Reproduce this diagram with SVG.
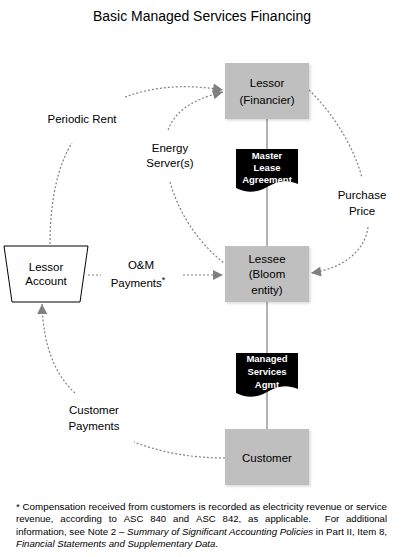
<svg xmlns="http://www.w3.org/2000/svg" width="405" height="557" viewBox="0 0 405 557">
<style>
text{font-family:"Liberation Sans",Arial,sans-serif;fill:#000}
.t{font-size:14px}
.n{font-size:11.5px;text-anchor:middle}
.d{font-size:9.5px;text-anchor:middle;fill:#fff;font-weight:bold}
.f{font-size:9.6px}
.box{fill:#bfbfbf}
.dash{fill:none;stroke:#808080;stroke-width:1.2;stroke-dasharray:2 2}
.solid{stroke:#808080;stroke-width:1.2}
</style>
<defs>
<marker id="ah" viewBox="0 0 10 10" refX="10" refY="5" markerWidth="11" markerHeight="10" markerUnits="userSpaceOnUse" orient="auto">
<path d="M0,0 L10,5 L0,10 Z" fill="#808080"/>
</marker>
<filter id="sh" x="-10%" y="-10%" width="130%" height="130%">
<feDropShadow dx="1.5" dy="1.5" stdDeviation="1" flood-color="#000" flood-opacity="0.15"/>
</filter>
</defs>
<rect width="405" height="557" fill="#fff"/>
<text class="t" x="202" y="21" text-anchor="middle" textLength="218" lengthAdjust="spacingAndGlyphs">Basic Managed Services Financing</text>

<g id="connectors">
<line class="solid" x1="267" y1="119" x2="267" y2="246"/>
<line class="solid" x1="267" y1="302" x2="267" y2="429"/>
<path class="dash" d="M50,244 C50,200 58,165 72,143"/>
<path class="dash" d="M125,97 C150,88 180,83 223,90" marker-end="url(#ah)"/>
<path class="dash" d="M168,130 C175,112 190,100 223,92" marker-end="url(#ah)"/>
<path class="dash" d="M170,182 C178,210 195,240 224,263"/>
<path class="dash" d="M309,90 C335,115 355,150 362,178"/>
<path class="dash" d="M368,227 C365,250 345,268 311,273" marker-end="url(#ah)"/>
<path class="dash" d="M88,275 H101"/>
<path class="dash" d="M183,275 H223" marker-end="url(#ah)"/>
<path class="dash" d="M225,458 C190,458 160,452 134,442"/>
<path class="dash" d="M75,393 C55,375 43,345 42,304" marker-end="url(#ah)"/>
</g>

<g id="lessor">
<rect class="box" x="225" y="63" width="84" height="56" filter="url(#sh)"/>
<text class="n" x="267" y="87">Lessor</text>
<text class="n" x="267" y="104">(Financier)</text>
</g>
<g id="master-lease">
<path d="M236,149 H298 V184 C286,179 277,181 267,187 C257,193 246,193 236,188 Z" fill="#000"/>
<text class="d" x="267" y="159">Master</text>
<text class="d" x="267" y="171">Lease</text>
<text class="d" x="267" y="183">Agreement</text>
</g>
<g id="lessee">
<rect class="box" x="225" y="246" width="84" height="56" filter="url(#sh)"/>
<text class="n" x="267" y="263">Lessee</text>
<text class="n" x="267" y="278">(Bloom</text>
<text class="n" x="267" y="294">entity)</text>
</g>
<g id="managed-services">
<path d="M236,353 H298 V389 C286,384 277,386 267,392 C257,398 246,398 236,393 Z" fill="#000"/>
<text class="d" x="267" y="362">Managed</text>
<text class="d" x="267" y="375">Services</text>
<text class="d" x="267" y="388">Agmt</text>
</g>
<g id="customer">
<rect class="box" x="225" y="429" width="84" height="56" filter="url(#sh)"/>
<text class="n" x="267" y="462">Customer</text>
</g>
<g id="lessor-account">
<path d="M4,246 H88 L80,302 H12 Z" fill="#fff" stroke="#000" stroke-width="1"/>
<text class="n" x="46" y="271">Lessor</text>
<text class="n" x="46" y="285">Account</text>
</g>

<g id="labels">
<text class="n" x="82" y="123">Periodic Rent</text>
<text class="n" x="170" y="152">Energy</text>
<text class="n" x="170" y="167">Server(s)</text>
<text class="n" x="362" y="199">Purchase</text>
<text class="n" x="362" y="215">Price</text>
<text class="n" x="141" y="269">O&amp;M</text>
<text class="n" x="138" y="287">Payments<tspan font-size="9" dy="-4">*</tspan></text>
<text class="n" x="94" y="414">Customer</text>
<text class="n" x="94" y="430">Payments</text>
</g>

<g id="footnote" class="f">
<text x="16" y="510" textLength="371" lengthAdjust="spacingAndGlyphs">* Compensation received from customers is recorded as electricity revenue or service</text>
<text y="522"><tspan x="16">revenue,</tspan><tspan x="60.3">according</tspan><tspan x="108.8">to</tspan><tspan x="123.7">ASC</tspan><tspan x="150.2">840</tspan><tspan x="173.1">and</tspan><tspan x="196">ASC</tspan><tspan x="222.6">842,</tspan><tspan x="248.1">as</tspan><tspan x="265.1">applicable.</tspan><tspan x="324.8">For</tspan><tspan x="346">additional</tspan></text>
<text x="16" y="535" textLength="371" lengthAdjust="spacingAndGlyphs">information, see Note 2 – <tspan font-style="italic">Summary of Significant Accounting Policies</tspan> in Part II, Item 8,</text>
<text x="16" y="547" textLength="202" lengthAdjust="spacingAndGlyphs"><tspan font-style="italic">Financial Statements and Supplementary Data</tspan>.</text>
</g>
</svg>
